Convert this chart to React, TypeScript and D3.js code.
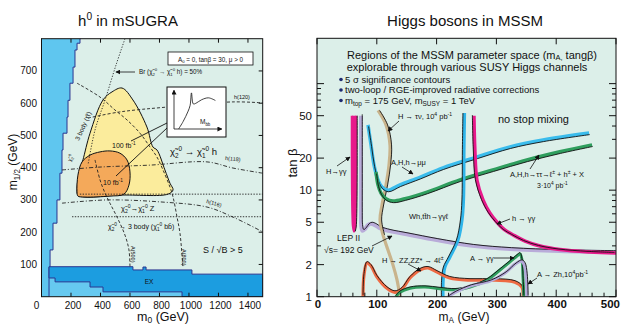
import { useEffect, useRef } from "react";
import * as d3 from "d3";

type Pt = [number, number];

// ---------- left panel: h0 in mSUGRA (m0, m1/2 in GeV) ----------
const m0Ticks = [0, 200, 400, 600, 800, 1000, 1200, 1400];
const m12Ticks = [100, 200, 300, 400, 500, 600, 700];

const theoryLimit: Pt[] = [[266, 800], [261, 786], [241, 765], [227, 712], [214, 662], [193, 609], [180, 557], [173, 507], [146, 455], [139, 383], [125, 300], [105, 228], [78, 145], [58, 92], [51, 58], [51, 0]];
const exRegion: Pt[] = [[51, 93], [620, 93], [620, 83], [688, 83], [688, 92], [709, 92], [709, 83], [1020, 83], [1020, 70], [1500, 70], [1500, 0], [953, 0], [953, 15], [417, 15], [417, 30], [329, 30], [329, 46], [92, 46], [92, 58], [51, 58]];
const reach100fb: Pt[] = [[546, 647], [620, 610], [715, 526], [756, 464], [783, 455], [837, 393], [871, 352], [892, 331], [858, 318], [532, 315], [295, 309], [247, 315], [241, 340], [261, 393], [281, 424], [329, 507], [417, 610], [478, 635]];
const reach10fb: Pt[] = [[241, 325], [247, 377], [275, 418], [329, 439], [397, 449], [464, 452], [532, 445], [580, 424], [600, 387], [593, 346], [559, 318], [464, 312], [295, 309], [247, 312]];
const br50: Pt[] = [[566, 800], [505, 718], [431, 610], [363, 517], [315, 408]];
const h120: Pt[] = [[315, 554], [532, 573], [851, 588], [1298, 604], [1500, 601]];
const h118: Pt[] = [[139, 393], [397, 402], [736, 408], [1122, 418], [1298, 399], [1500, 383]];
const h116: Pt[] = [[139, 290], [444, 300], [803, 294], [1122, 278], [1298, 247], [1500, 201]];
const a800: Pt[] = [[241, 662], [397, 619], [498, 579], [580, 548], [668, 507], [736, 464], [783, 433], [824, 393], [871, 340], [892, 309], [919, 247], [939, 197], [959, 92]];
const a500: Pt[] = [[363, 424], [397, 362], [431, 321], [464, 290], [512, 247], [566, 191], [593, 145], [600, 92]];
const zLine: Pt[] = [[260, 318], [1500, 318]];
const threeBody: Pt[] = [[207, 248], [1500, 248]];
const mbbShape: Pt[] = [[0.1, 0], [0.2, 0.2], [0.3, 0.45], [0.35, 0.62], [0.38, 0.95], [0.42, 0.66], [0.48, 0.68], [0.6, 0.77], [0.75, 0.82], [0.9, 0.75]];

// ---------- right panel: Higgs bosons in MSSM (mA in GeV, tan beta) ----------
const mATicks = [0, 100, 200, 300, 400, 500];
const tanbLabels = [1, 2, 5, 10, 20, 50];

const hGamGamLow: Pt[] = [[58.5, 50], [58.5, 20], [58.8, 10], [59.4, 6], [60.3, 4.6], [61.9, 4.1], [63.5, 4.5], [64.5, 6], [65, 10], [65.2, 20], [65.2, 50]];
const lepII: Pt[] = [[73.5, 50], [73.5, 20], [73.5, 10], [73.5, 6], [74, 4.6], [76, 4.15], [80, 4.3], [85, 4.7], [90, 4.85], [97, 4.7], [105, 4.4], [120, 4.15], [150, 3.85], [200, 3.4], [260, 3.0], [323, 2.8], [406, 2.68], [500, 2.62]];
const hTauNu: Pt[] = [[102, 56], [115.4, 41], [122, 26.6], [120.4, 17.3], [115.4, 11.2], [108.7, 7.26], [105.4, 5.25], [110.4, 3.8], [118.7, 2.74], [127, 1.99], [133.8, 1.44], [138.8, 1.0]];
const muMu: Pt[] = [[85.3, 41], [90.3, 26.6], [95.3, 17.3], [102, 12.5], [108.7, 10.7], [118.7, 10.0], [138.8, 11.2], [172, 13.2], [210.7, 16.2], [267.6, 20.5], [322.7, 25.5], [378, 29.6], [455, 34.4]];
const tauTau: Pt[] = [[98.7, 14.8], [102, 11.2], [107, 9.4], [115.4, 8.3], [127, 7.9], [147, 8.3], [184, 9.6], [239, 12.5], [294, 15.5], [351, 19.2], [406, 22.9], [460, 26.6]];
const whGamGamL: Pt[] = [[246.7, 53], [245.8, 24], [245, 8.1], [242.5, 5.25], [235.8, 3.4], [222.4, 2.36], [214, 1.9], [211, 1.43], [210.7, 1.0]];
const hGamGamHigh: Pt[] = [[262.5, 50], [264, 24], [267.5, 12.4], [277.6, 8.1], [289, 6.1], [301, 5.0], [314, 4.23], [328, 3.8], [348, 3.33], [373, 2.99], [406, 2.77], [456, 2.63], [500, 2.57]];
const hZZ: Pt[] = [[77, 1.0], [78.6, 1.6], [83.6, 2.07], [90.3, 1.94], [100.3, 1.53], [117, 1.2], [130.4, 1.1], [142, 1.18], [155.5, 1.5], [172, 1.78], [185.6, 1.86], [200.7, 1.7], [222, 1.5], [255.9, 1.43], [297.7, 1.43], [331, 1.37], [342.8, 1.23], [344.5, 1.0]];
const aGamGam: Pt[] = [[132, 1.0], [138.8, 1.1], [155.5, 1.2], [180.6, 1.23], [205.7, 1.19], [230.8, 1.16], [255.9, 1.23], [284, 1.43], [306, 1.78], [322.7, 2.12], [334.4, 2.41], [339.5, 2.52], [342.8, 2.21], [344.5, 1.53], [346, 1.0]];
const aZh: Pt[] = [[219, 1.0], [230.8, 1.1], [255.9, 1.26], [289.3, 1.4], [314.4, 1.67], [331, 2.02], [341, 2.16], [346, 2.03], [349.5, 1.6], [351, 1.0]];

const FONT = "'Liberation Sans', Arial, Helvetica, sans-serif";
const BG = "#dcefe9";
const CHI = "\u03C7\u0303";

type Part = [string, number?];

// text with sub (-1) / superscript (1) pieces
function rich(g: any, x: number, y: number, parts: Part[], size: number, opts: any = {}) {
  const t = g.append("text").attr("x", x).attr("y", y).attr("font-size", size)
    .attr("font-family", FONT).attr("fill", "#111")
    .attr("text-anchor", opts.anchor || "start").attr("font-weight", opts.weight || "normal");
  if (opts.rotate) t.attr("transform", `rotate(${opts.rotate},${x},${y})`);
  const subK = opts.sub ?? 0.28;
  let cur = 0;
  parts.forEach(([s, k]) => {
    const off = k === 1 ? -size * 0.4 : k === -1 ? size * subK : 0;
    t.append("tspan").attr("dy", off - cur).attr("font-size", k ? size * 0.68 : size).text(s);
    cur = off;
  });
  return t;
}

export default function App() {
  const ref = useRef<SVGSVGElement>(null);

  useEffect(() => {
    const svg = d3.select(ref.current);
    svg.selectAll("*").remove();

    const defs = svg.append("defs");
    defs.append("marker").attr("id", "arr").attr("viewBox", "0 0 8 8").attr("refX", 7).attr("refY", 4)
      .attr("markerWidth", 5).attr("markerHeight", 5).attr("markerUnits", "userSpaceOnUse").attr("orient", "auto")
      .append("path").attr("d", "M0,0 L8,4 L0,8 Z").attr("fill", "#111");

    // ================= LEFT PANEL =================
    const xL = d3.scaleLinear().domain([0, 1500]).range([41.5, 262.7]);
    const yL = d3.scaleLinear().domain([0, 800]).range([296.7, 38.7]);
    defs.append("clipPath").attr("id", "clipL").append("rect")
      .attr("x", 41.5).attr("y", 38.7).attr("width", 221.2).attr("height", 258);

    const L = svg.append("g");
    L.append("rect").attr("x", 41.5).attr("y", 38.7).attr("width", 221.2).attr("height", 258).attr("fill", BG);
    const Lc = L.append("g").attr("clip-path", "url(#clipL)");
    const lineL = d3.line<Pt>().x((d) => xL(d[0])).y((d) => yL(d[1]));

    // excluded (theory) strip and low-m1/2 region
    Lc.append("rect").attr("x", xL(0)).attr("y", yL(60)).attr("width", xL(1500) - xL(0)).attr("height", yL(0) - yL(60)).attr("fill", "#66c9f0");
    const stepLine = d3.line<Pt>().x((d) => xL(d[0])).y((d) => yL(d[1])).curve(d3.curveStepAfter);
    Lc.append("path").attr("d", stepLine(theoryLimit) + `L${xL(0)},${yL(0)}L${xL(0)},${yL(800)}Z`).attr("fill", "#5fc6ef");
    Lc.append("path").attr("d", stepLine(theoryLimit)).attr("fill", "none").attr("stroke", "#2a3590").attr("stroke-width", 1);
    Lc.append("path").attr("d", lineL(exRegion) + "Z").attr("fill", "#1c9de0").attr("stroke", "#2a3590").attr("stroke-width", 1);

    // discovery regions
    const closed = d3.line<Pt>().x((d) => xL(d[0])).y((d) => yL(d[1])).curve(d3.curveCatmullRomClosed.alpha(0.5));
    Lc.append("path").attr("d", closed(reach100fb)).attr("fill", "#fbec9c").attr("stroke", "#111").attr("stroke-width", 1);
    Lc.append("path").attr("d", closed(reach10fb)).attr("fill", "#f4a95a").attr("stroke", "#111").attr("stroke-width", 1);

    const smooth = d3.line<Pt>().x((d) => xL(d[0])).y((d) => yL(d[1])).curve(d3.curveCatmullRom.alpha(0.5));
    const dashed = (pts: Pt[], dash: string) =>
      Lc.append("path").attr("d", smooth(pts)).attr("fill", "none").attr("stroke", "#222").attr("stroke-width", 0.9).attr("stroke-dasharray", dash);
    dashed(br50, "1.2,1.6");
    dashed(h120, "3,2");
    dashed(h118, "4,2,1,2");
    dashed(h116, "4,2,1,2");
    dashed(a800, "3,2");
    dashed(a500, "3,2");
    dashed(zLine, "1.4,1.4");
    dashed(threeBody, "1.4,1.4");

    // ticks
    m0Ticks.forEach((t) => {
      L.append("line").attr("x1", xL(t)).attr("x2", xL(t)).attr("y1", yL(0)).attr("y2", yL(0) - 4).attr("stroke", "#111");
      L.append("line").attr("x1", xL(t)).attr("x2", xL(t)).attr("y1", yL(800)).attr("y2", yL(800) + 4).attr("stroke", "#111");
      L.append("text").attr("x", t === 0 ? xL(t) - 5 : xL(t) + 2).attr("y", 308.5).attr("text-anchor", "middle")
        .attr("font-size", 10).attr("font-family", FONT).attr("fill", "#111").text(t);
    });
    m12Ticks.forEach((t) => {
      L.append("line").attr("x1", xL(1500)).attr("x2", xL(1500) - 4).attr("y1", yL(t)).attr("y2", yL(t)).attr("stroke", "#111");
      L.append("text").attr("x", 37).attr("y", yL(t) + 3.5).attr("text-anchor", "end")
        .attr("font-size", 10).attr("font-family", FONT).attr("fill", "#111").text(t);
    });
    L.append("rect").attr("x", 41.5).attr("y", 38.7).attr("width", 221.2).attr("height", 258).attr("fill", "none").attr("stroke", "#111").attr("stroke-width", 1);

    // inset M_bb sketch
    const xi = d3.scaleLinear().domain([0, 1]).range([174, 220]);
    const yi = d3.scaleLinear().domain([0, 1]).range([129, 91]);
    L.append("line").attr("x1", 131).attr("y1", 141).attr("x2", 167).attr("y2", 123).attr("stroke", "#111").attr("stroke-width", 0.9);
    L.append("line").attr("x1", 116).attr("y1", 176).attr("x2", 167).attr("y2", 128).attr("stroke", "#111").attr("stroke-width", 0.9);
    L.append("rect").attr("x", 167).attr("y", 87).attr("width", 59).attr("height", 50).attr("fill", "#fff").attr("stroke", "#111");
    L.append("line").attr("x1", xi(0)).attr("y1", yi(0)).attr("x2", xi(0)).attr("y2", yi(1.02)).attr("stroke", "#111").attr("stroke-width", 0.8).attr("marker-end", "url(#arr)");
    L.append("line").attr("x1", xi(0)).attr("y1", yi(0)).attr("x2", xi(1.04)).attr("y2", yi(0)).attr("stroke", "#111").attr("stroke-width", 0.8).attr("marker-end", "url(#arr)");
    L.append("path").attr("d", d3.line<Pt>().x((d) => xi(d[0])).y((d) => yi(d[1])).curve(d3.curveCatmullRom)(mbbShape))
      .attr("fill", "none").attr("stroke", "#111").attr("stroke-width", 0.8);
    rich(L, 200, 124, [["M"], ["bb", -1]], 6.5);

    // annotations
    L.append("rect").attr("x", 168).attr("y", 52).attr("width", 85).attr("height", 13).attr("fill", "#fff").attr("stroke", "#111").attr("stroke-width", 0.8);
    rich(L, 210.5, 61.5, [["A"], ["0", -1], [" = 0, tan\u03B2 = 30, \u03BC > 0"]], 6.3, { anchor: "middle" });
    L.append("line").attr("x1", 135).attr("y1", 72).attr("x2", 116).attr("y2", 72).attr("stroke", "#111").attr("stroke-width", 0.8).attr("marker-end", "url(#arr)");
    rich(L, 139, 74, [["Br ("], [CHI], ["2", -1], ["0", 1], [" \u2192 "], [CHI], ["1", -1], ["0", 1], [" h) = 50%"]], 6.3);
    rich(L, 234, 99, [["h(120)"]], 5.5);
    rich(L, 225, 160, [["h(118)"]], 5.5, { rotate: 6 });
    rich(L, 206, 203, [["h(116)"]], 5.5, { rotate: 16 });
    rich(L, 112, 148, [["100 fb"], ["-1", 1]], 7);
    rich(L, 103, 185, [["10 fb"], ["-1", 1]], 7);
    rich(L, 170, 155, [[CHI], ["2", -1], ["0", 1], [" \u2192 "], [CHI], ["1", -1], ["0", 1], [" h"]], 9.5);
    rich(L, 121, 211, [[CHI], ["2", -1], ["0", 1], ["\u2192"], [CHI], ["1", -1], ["0", 1], [" Z"]], 7.5);
    rich(L, 108, 229, [[CHI], ["2", -1], ["0", 1], [" \u2192 3 body ("], [CHI], ["1", -1], ["0", 1], [" bb\u0304)"]], 7);
    rich(L, 130.5, 246, [["A(500)"]], 5.5, { rotate: 90 });
    rich(L, 182, 249, [["A(800)"]], 5.5, { rotate: 90 });
    rich(L, 203, 253, [["S / \u221AB > 5"]], 9);
    rich(L, 149, 284, [["EX"]], 6.5, { anchor: "middle" });
    rich(L, 79, 141, [["3 body ("], ["\u03C4\u0303\u03C4"], [")"]], 6.5, { rotate: -66 });
    rich(L, 71, 162, [[CHI], ["2", -1], ["0", 1]], 5.5, { rotate: -70 });

    // titles & axis labels
    rich(L, 128, 26, [["h"], ["0", 1], [" in mSUGRA"]], 15, { anchor: "middle" });
    rich(L, 163, 320.5, [["m"], ["0", -1], ["  (GeV)"]], 12.5, { anchor: "middle", sub: 0.18 });
    rich(L, 17, 162, [["m"], ["1/2", -1], ["  (GeV)"]], 12, { anchor: "middle", rotate: -90 });

    // ================= RIGHT PANEL =================
    const xR = d3.scaleLinear().domain([0, 500]).range([317, 616]);
    const yR = d3.scaleLog().domain([1, 50]).range([296.7, 115.7]);
    const topR = 38.3;
    defs.append("clipPath").attr("id", "clipR").append("rect")
      .attr("x", 317).attr("y", topR).attr("width", 299).attr("height", 296.7 - topR);
    const R = svg.append("g");
    R.append("rect").attr("x", 317).attr("y", topR).attr("width", 299).attr("height", 296.7 - topR).attr("fill", BG);
    const Rc = R.append("g").attr("clip-path", "url(#clipR)");
    const lineR = d3.line<Pt>().x((d) => xR(d[0])).y((d) => yR(d[1])).curve(d3.curveCatmullRom.alpha(0.5));

    const curve = (pts: Pt[], color: string, w: number, dx: number, dy: number, blackPts?: Pt[]) => {
      Rc.append("path").attr("d", lineR(pts)).attr("fill", "none").attr("stroke", color).attr("stroke-width", w).attr("stroke-linejoin", "round");
      Rc.append("path").attr("d", lineR(blackPts || pts)).attr("fill", "none").attr("stroke", "#111").attr("stroke-width", 0.9)
        .attr("transform", `translate(${dx},${dy})`);
    };
    Rc.append("path").attr("d", lineR(hGamGamLow)).attr("fill", "#e8198b").attr("stroke", "#e8198b").attr("stroke-width", 2.5);
    Rc.append("path").attr("d", lineR(hGamGamLow.slice(5))).attr("fill", "none").attr("stroke", "#111").attr("stroke-width", 0.9).attr("transform", "translate(1.2,0)");
    curve(lepII, "#b9acd9", 4, 1.3, -1.4);
    curve(hTauNu, "#c9b48c", 3.2, 1.6, 0, hTauNu.slice(0, 8));
    curve(muMu, "#3bbcec", 3.5, 0.6, 1.6);
    curve(tauTau, "#2f9e5e", 3.5, 0.6, 1.6);
    curve(whGamGamL, "#2fb5ea", 3.2, -1.6, 0);
    curve(hGamGamHigh, "#e8198b", 3.5, -1.6, -0.6);
    curve(hZZ, "#ee6a43", 3.2, 0, -1.5);
    curve(aGamGam, "#2f9e5e", 3, 0, -1.3);
    curve(aZh, "#b3a8d9", 3.2, 1.2, -1.2);

    // ticks
    d3.range(0, 501, 20).forEach((t) => {
      const len = t % 100 === 0 ? 7 : 4;
      R.append("line").attr("x1", xR(t)).attr("x2", xR(t)).attr("y1", 296.7).attr("y2", 296.7 - len).attr("stroke", "#111");
    });
    mATicks.forEach((t) => {
      R.append("line").attr("x1", xR(t)).attr("x2", xR(t)).attr("y1", topR).attr("y2", topR + 6).attr("stroke", "#111");
      R.append("text").attr("x", t === 500 ? 620 : xR(t) + 1).attr("y", 307.5).attr("text-anchor", t === 500 ? "end" : "middle")
        .attr("font-size", 11.5).attr("font-weight", "bold").attr("font-family", FONT).attr("fill", "#111").text(t);
    });
    const logTicks = [1, 2, 3, 4, 5, 6, 7, 8, 9, 10, 20, 30, 40, 50, 60, 70, 80, 90, 100];
    logTicks.forEach((t) => {
      const len = tanbLabels.includes(t) || t === 100 ? 7 : 4;
      R.append("line").attr("x1", 317).attr("x2", 317 + len).attr("y1", yR(t)).attr("y2", yR(t)).attr("stroke", "#111");
      R.append("line").attr("x1", 616).attr("x2", 616 - len).attr("y1", yR(t)).attr("y2", yR(t)).attr("stroke", "#111");
    });
    tanbLabels.forEach((t) => {
      R.append("text").attr("x", 312).attr("y", yR(t) + 4).attr("text-anchor", "end")
        .attr("font-size", 11.5).attr("font-family", FONT).attr("fill", "#111").text(t);
    });
    R.append("rect").attr("x", 317).attr("y", topR).attr("width", 299).attr("height", 296.7 - topR).attr("fill", "none").attr("stroke", "#111");

    // header texts
    rich(R, 472, 58.5, [["Regions of the MSSM parameter space (m"], ["A,", -1], [" tang\u03B2)"]], 11, { anchor: "middle", sub: 0.15 });
    rich(R, 467, 71, [["explorable through various  SUSY Higgs channels"]], 11, { anchor: "middle" });
    [82.5, 93, 103.5].forEach((y) => R.append("circle").attr("cx", 341).attr("cy", y - 3).attr("r", 1.8).attr("fill", "#1d2a70"));
    rich(R, 345, 82.5, [["5 \u03C3  significance contours"]], 9.5);
    rich(R, 345, 93, [["two-loop / RGE-improved radiative corrections"]], 9.5);
    rich(R, 345, 103.5, [["m"], ["top", -1], [" = 175 GeV,  m"], ["SUSY", -1], [" = 1 TeV"]], 9.5);
    rich(R, 498, 123, [["no stop mixing"]], 11);

    // curve labels with arrows
    const arrow = (x1: number, y1: number, x2: number, y2: number) =>
      R.append("line").attr("x1", x1).attr("y1", y1).attr("x2", x2).attr("y2", y2).attr("stroke", "#111").attr("stroke-width", 0.8).attr("marker-end", "url(#arr)");
    rich(R, 398, 119, [["H \u2192 \u03C4\u03BD, 10"], ["4", 1], [" pb"], ["-1", 1]], 7.5);
    arrow(399, 121, 388, 131);
    rich(R, 326, 174, [["H\u2192\u03B3\u03B3"]], 7.5);
    arrow(337, 166, 350, 157);
    rich(R, 391, 165, [["A,H,h\u2192\u03BC\u03BC"]], 7.5);
    arrow(402, 167, 413, 174);
    rich(R, 510, 177, [["A,H,h\u2192\u03C4\u03C4\u2192"], ["\u2113", 0], ["\u00B1", 1], [" + h"], ["\u00B1", 1], [" + X"]], 7.5);
    rich(R, 537, 188, [["3\u00B710"], ["4", 1], [" pb"], ["-1", 1]], 7);
    arrow(530, 169, 539, 155);
    rich(R, 409, 219, [["Wh,tt\u0304h\u2192\u03B3\u03B3\u2113"]], 7.5);
    rich(R, 512, 221, [["h \u2192 \u03B3\u03B3"]], 7.5);
    arrow(510, 219, 497, 224);
    rich(R, 337, 241, [["LEP II"]], 8.5);
    rich(R, 324, 253, [["\u221As= 192 GeV"]], 8.5);
    arrow(372, 246, 392, 236);
    rich(R, 382, 263, [["H \u2192 ZZ,ZZ* \u2192 4\u2113"], ["\u00B1", 1]], 7.5);
    arrow(408, 264, 421, 271);
    rich(R, 470, 261, [["A \u2192 \u03B3\u03B3"]], 7.5);
    arrow(494, 258, 514, 258);
    rich(R, 537, 277, [["A \u2192 Zh,10"], ["4", 1], ["pb"], ["-1", 1]], 7.5);
    arrow(537, 278, 528, 284);

    rich(R, 465, 26, [["Higgs bosons in MSSM"]], 15, { anchor: "middle" });
    rich(R, 464, 321, [["m"], ["A", -1], ["  (GeV)"]], 12, { anchor: "middle", sub: 0.15 });
    rich(R, 297, 163, [["tan \u03B2"]], 13, { anchor: "middle", rotate: -90 });
  }, []);

  return <svg ref={ref} width={621} height={325} style={{ position: "absolute", left: 0, top: 0, background: "#fff" }} />;
}
